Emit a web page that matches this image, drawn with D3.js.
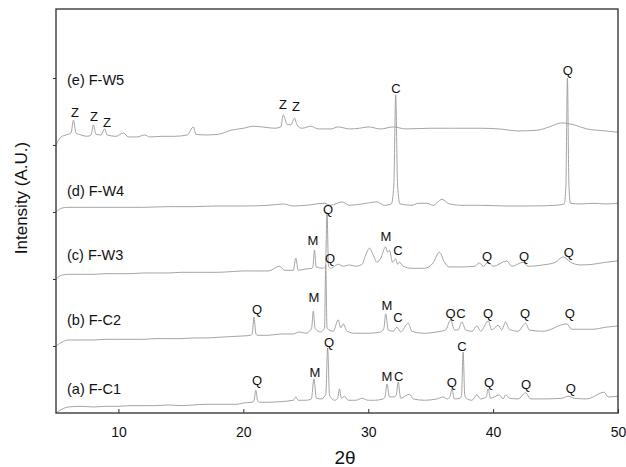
<!DOCTYPE html>
<html>
<head>
<meta charset="utf-8">
<script src="https://cdn.jsdelivr.net/npm/d3@7"></script>
<style>
  html, body { margin: 0; padding: 0; background: #fff; }
  svg { display: block; }
  text { font-family: Arial, "Liberation Sans", sans-serif; fill: #111; }
</style>
</head>
<body>
<svg id="chart" width="626" height="467"></svg>
<script>
// ---------- data (2θ, intensity in stacked A.U.) ----------
const xTicks = [10, 20, 30, 40, 50];
const yTicks = [1, 2, 3, 4, 5];
const xLabel = "2θ";
const yLabel = "Intensity (A.U.)";

const sampleNames = ["(a) F-C1", "(b) F-C2", "(c) F-W3", "(d) F-W4", "(e) F-W5"];
const sampleNameLevel = [0.36, 1.39, 2.36, 3.31, 4.97];
const sampleNameX = [5.88, 5.88, 5.88, 5.88, 5.88];

const traceA = [[5,0],[5.5,0.06],[6,0.09],[7,0.10],[8,0.09],[9,0.10],[10,0.10],[11,0.11],[12,0.11],[13,0.11],[14,0.12],[15,0.11],[16,0.12],[17,0.13],[18,0.13],[19.5,0.13],[20,0.15],[20.7,0.16],[20.85,0.18],[21,0.34],[21.15,0.18],[21.3,0.16],[22,0.16],[23,0.17],[24,0.19],[24.2,0.24],[24.4,0.19],[25,0.19],[25.45,0.21],[25.65,0.51],[25.85,0.22],[26.3,0.21],[26.5,0.25],[26.6,0.27],[26.75,0.97],[26.9,0.27],[27.05,0.22],[27.3,0.19],[27.55,0.22],[27.7,0.36],[27.85,0.22],[28.1,0.25],[28.4,0.19],[29,0.19],[29.5,0.22],[30,0.19],[30.5,0.19],[31.2,0.21],[31.35,0.25],[31.5,0.43],[31.7,0.24],[32.1,0.24],[32.25,0.27],[32.4,0.46],[32.6,0.22],[33.3,0.28],[33.6,0.21],[34.5,0.19],[35.5,0.21],[36,0.24],[36.3,0.21],[36.55,0.24],[36.7,0.36],[36.9,0.21],[37.35,0.22],[37.47,0.26],[37.6,0.91],[37.73,0.26],[37.85,0.22],[38.3,0.19],[38.7,0.27],[39,0.21],[39.45,0.24],[39.6,0.36],[39.8,0.22],[40.5,0.27],[40.8,0.21],[41,0.27],[41.3,0.22],[42,0.21],[42.6,0.30],[43,0.21],[44,0.21],[45.5,0.22],[46,0.25],[46.5,0.22],[47.5,0.21],[48.9,0.31],[49.2,0.24],[50,0.25]];

const traceB = [[5,1.0],[5.5,1.06],[6,1.09],[7,1.09],[8,1.09],[9,1.10],[10,1.10],[11,1.10],[12,1.10],[13,1.11],[14,1.11],[15,1.11],[16,1.12],[17,1.12],[18,1.13],[19,1.14],[20,1.15],[20.6,1.16],[20.72,1.19],[20.85,1.43],[21,1.19],[21.1,1.16],[22,1.16],[23,1.18],[24,1.18],[24.5,1.21],[25,1.19],[25.4,1.24],[25.48,1.28],[25.6,1.52],[25.75,1.26],[26.2,1.21],[26.4,1.24],[26.5,1.27],[26.6,2.21],[26.7,1.27],[26.85,1.24],[27.2,1.22],[27.6,1.39],[27.8,1.27],[28,1.33],[28.3,1.22],[29,1.19],[30,1.19],[31,1.21],[31.25,1.26],[31.4,1.48],[31.6,1.24],[32,1.22],[32.3,1.28],[32.6,1.21],[33.2,1.34],[33.5,1.22],[34.5,1.19],[35.5,1.21],[36.2,1.24],[36.6,1.39],[36.9,1.24],[37.2,1.24],[37.5,1.36],[37.8,1.24],[38.3,1.22],[38.7,1.30],[39,1.22],[39.6,1.37],[39.9,1.24],[40.4,1.31],[40.7,1.24],[41,1.36],[41.3,1.25],[42,1.22],[42.6,1.34],[42.9,1.24],[44,1.22],[45.9,1.33],[46.3,1.25],[48,1.25],[49,1.28],[50,1.30]];

const traceC = [[5,2.0],[5.5,2.06],[6,2.07],[7,2.07],[8,2.07],[9,2.08],[10,2.08],[11,2.08],[12,2.09],[13,2.09],[14,2.09],[15,2.10],[16,2.10],[17,2.10],[18,2.10],[19,2.11],[20,2.12],[21,2.12],[22,2.12],[22.9,2.19],[23.3,2.13],[24,2.13],[24.2,2.31],[24.4,2.13],[25,2.15],[25.5,2.16],[25.58,2.20],[25.7,2.43],[25.83,2.18],[26.4,2.16],[26.58,2.19],[26.7,2.99],[26.82,2.19],[27,2.16],[27.3,2.19],[27.6,2.22],[28,2.19],[28.5,2.21],[29,2.19],[29.5,2.22],[29.8,2.36],[30.1,2.46],[30.4,2.36],[30.7,2.25],[31,2.31],[31.4,2.48],[31.55,2.40],[31.7,2.43],[31.95,2.25],[32.2,2.30],[32.35,2.22],[32.5,2.25],[32.8,2.19],[33.5,2.16],[34.5,2.16],[35.2,2.24],[35.7,2.40],[36.1,2.25],[36.5,2.18],[37.5,2.18],[38.5,2.19],[38.9,2.24],[39.2,2.19],[39.6,2.25],[40,2.19],[41.1,2.27],[41.5,2.19],[42.4,2.25],[42.8,2.19],[44,2.21],[45,2.25],[45.6,2.33],[46.2,2.25],[47,2.21],[48,2.22],[49,2.25],[50,2.27]];

const traceD = [[5,3.0],[5.5,3.06],[6,3.07],[8,3.07],[10,3.07],[12,3.07],[14,3.08],[16,3.08],[18,3.09],[20,3.09],[22,3.10],[23.2,3.12],[24,3.09],[25,3.10],[26.5,3.13],[27,3.10],[27.9,3.15],[28.5,3.10],[29.5,3.12],[30.7,3.15],[31.3,3.10],[31.85,3.12],[32.05,3.40],[32.2,4.75],[32.35,3.40],[32.55,3.12],[33.5,3.10],[34,3.13],[34.7,3.13],[35.2,3.10],[35.9,3.19],[36.5,3.12],[37.5,3.10],[39,3.10],[41,3.09],[43,3.09],[45,3.10],[45.7,3.12],[45.83,3.40],[45.95,5.0],[46.07,3.40],[46.2,3.13],[47,3.12],[48,3.13],[49,3.12],[50,3.13]];

const traceE = [[5,4.0],[5.4,4.12],[5.8,4.15],[6.2,4.18],[6.4,4.37],[6.6,4.18],[7,4.15],[7.5,4.13],[7.8,4.15],[8,4.30],[8.2,4.16],[8.6,4.15],[8.9,4.24],[9.1,4.15],[9.8,4.13],[10.4,4.18],[10.8,4.12],[11.5,4.12],[12.1,4.15],[12.5,4.12],[13.5,4.13],[14.5,4.13],[15.5,4.15],[16,4.27],[16.2,4.16],[17,4.15],[18,4.16],[19,4.22],[20,4.25],[20.8,4.28],[21.5,4.27],[22.5,4.25],[23,4.27],[23.2,4.45],[23.5,4.31],[23.8,4.30],[24.1,4.40],[24.3,4.30],[24.7,4.25],[25.4,4.28],[26,4.24],[27,4.24],[27.6,4.27],[28.5,4.24],[29.3,4.25],[30,4.27],[31,4.24],[32,4.27],[33,4.24],[35,4.25],[37,4.25],[39,4.25],[40.5,4.24],[42,4.21],[43.5,4.22],[44.5,4.27],[45.5,4.33],[46.5,4.30],[47.5,4.24],[49,4.21],[50,4.19]];

const traces = [traceA, traceB, traceC, traceD, traceE];

// peak annotations
const peakLetters = ["Q","M","Q","M","C","Q","C","Q","Q","Q",
                     "Q","M","Q","M","C","Q","C","Q","Q","Q",
                     "M","Q","M","C","Q","Q","Q",
                     "C","Q",
                     "Z","Z","Z","Z","Z"];
const peakX = [21.1,25.74,26.86,31.5,32.45,36.7,37.5,39.67,42.63,46.23,
               21.09,25.66,26.94,31.5,32.38,36.6,37.42,39.59,42.55,46.15,
               25.58,26.78,31.42,32.38,39.51,42.47,46.07,
               32.22,45.99,
               6.52,8.04,9.08,23.17,24.22];
const peakLevel = [0.49,0.60,1.06,0.54,0.54,0.46,0.99,0.46,0.43,0.37,
                   1.55,1.73,2.31,1.61,1.43,1.49,1.49,1.49,1.49,1.48,
                   2.57,3.04,2.63,2.43,2.33,2.34,2.39,
                   4.85,5.12,
                   4.49,4.43,4.34,4.60,4.57];

// ---------- drawing ----------
const svg = d3.select("#chart");
const plotLeft = 56, plotRight = 618, plotTop = 9, plotBottom = 413;

const x = d3.scaleLinear().domain([5, 50]).range([plotLeft, plotRight]);
const y = d3.scaleLinear().domain([0, 6.03]).range([plotBottom, plotTop]);

const line = d3.line()
  .x(d => x(d[0]))
  .y(d => y(d[1]))
  .curve(d3.curveMonotoneX);

svg.append("g").selectAll("path")
  .data(traces)
  .join("path")
  .attr("d", line)
  .attr("fill", "none")
  .attr("stroke", "#9a9a9a")
  .attr("stroke-width", 0.9);

// frame
svg.append("rect")
  .attr("x", plotLeft).attr("y", plotTop)
  .attr("width", plotRight - plotLeft).attr("height", plotBottom - plotTop)
  .attr("fill", "none").attr("stroke", "#3a3a3a").attr("stroke-width", 1.4);

// x axis (ticks inside)
const xAxis = d3.axisBottom(x).tickValues(xTicks).tickSizeInner(-4).tickSizeOuter(0).tickPadding(14);
const gx = svg.append("g").attr("transform", `translate(0,${plotBottom})`).call(xAxis);
gx.select(".domain").remove();
gx.selectAll(".tick line").attr("stroke", "#333");
gx.selectAll(".tick text").attr("font-size", 14).attr("font-family", "Arial, 'Liberation Sans', sans-serif").attr("fill", "#111");

// y axis (ticks outside, no labels)
const yAxis = d3.axisLeft(y).tickValues(yTicks).tickSize(3).tickFormat("");
const gy = svg.append("g").attr("transform", `translate(${plotLeft},0)`).call(yAxis);
gy.select(".domain").remove();
gy.selectAll(".tick line").attr("stroke", "#333");

// axis titles
svg.append("text").attr("x", 345).attr("y", 464)
  .attr("text-anchor", "middle").attr("font-size", 19).text(xLabel);
svg.append("text")
  .attr("transform", "translate(27,198) rotate(-90)")
  .attr("text-anchor", "middle").attr("font-size", 17).text(yLabel);

// sample names
svg.append("g").selectAll("text")
  .data(sampleNames)
  .join("text")
  .attr("x", (d, i) => x(sampleNameX[i]))
  .attr("y", (d, i) => y(sampleNameLevel[i]))
  .attr("dy", "0.35em")
  .attr("font-size", 14.5)
  .text(d => d);

// peak letters
svg.append("g").selectAll("text")
  .data(peakLetters)
  .join("text")
  .attr("x", (d, i) => x(peakX[i]))
  .attr("y", (d, i) => y(peakLevel[i]))
  .attr("dy", "0.35em")
  .attr("text-anchor", "middle")
  .attr("font-size", 13)
  .text(d => d);
</script>
</body>
</html>
